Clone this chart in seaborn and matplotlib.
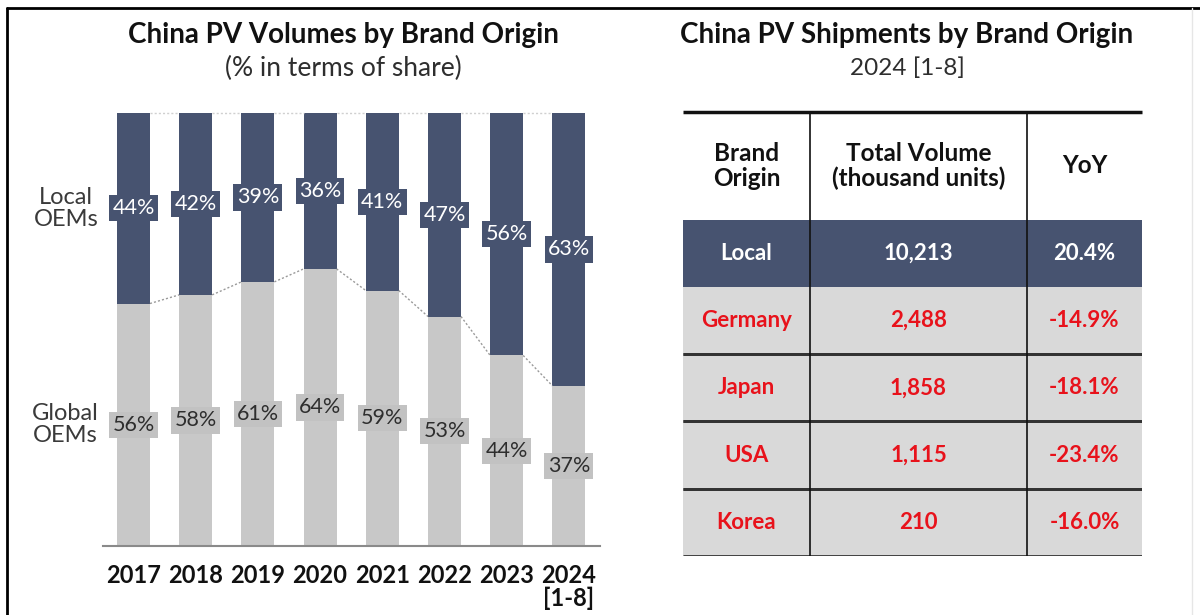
import matplotlib
matplotlib.use("Agg")
import matplotlib.pyplot as plt
import seaborn as sns
import pandas as pd
from matplotlib.patches import Rectangle
from matplotlib.lines import Line2D

# ---------------- data ----------------
years = ["2017", "2018", "2019", "2020", "2021", "2022", "2023", "2024\n[1-8]"]
local_share = [44, 42, 39, 36, 41, 47, 56, 63]
global_share = [56, 58, 61, 64, 59, 53, 44, 37]

table_headers = ["Brand\nOrigin", "Total Volume\n(thousand units)", "YoY"]
origins = ["Local", "Germany", "Japan", "USA", "Korea"]
volumes = ["10,213", "2,488", "1,858", "1,115", "210"]
yoy = ["20.4%", "-14.9%", "-18.1%", "-23.4%", "-16.0%"]

left_title = "China PV Volumes by Brand Origin"
left_sub = "(% in terms of share)"
right_title = "China PV Shipments by Brand Origin"
right_sub = "2024 [1-8]"

# ---------------- style ----------------
NAVY = "#475370"
GRAY = "#c8c8c8"
LBOX = "#c2c2c2"
TGRAY = "#d9d9d9"
RED = "#e8121b"
TXT = "#2e2e2e"

sns.set_theme(style="white")
plt.rcParams['font.family'] = ['Lato', 'DejaVu Sans']

W, H = 1200, 615
fig = plt.figure(figsize=(12, 6.15), dpi=100)
fig.patch.set_facecolor("white")


def fx(px):
    return px / W


def fy(py):
    return 1 - py / H


# ---------------- left: stacked bars ----------------
ax = fig.add_axes([fx(103), fy(546), (600 - 103) / W, (546 - 113) / H])
df = pd.DataFrame({"year": years, "local": local_share, "global": global_share})
df["total"] = df["local"] + df["global"]
BW = 0.53
sns.barplot(data=df, x="year", y="total", color=NAVY, width=BW, ax=ax,
            saturation=1, errorbar=None, linewidth=0)
sns.barplot(data=df, x="year", y="global", color=GRAY, width=BW, ax=ax,
            saturation=1, errorbar=None, linewidth=0)
ax.set_xlim(-0.49, 7.5)
ax.set_ylim(0, 100)
ax.set_xlabel("")
ax.set_ylabel("")
ax.set_yticks([])
for s in ["left", "top", "right"]:
    ax.spines[s].set_visible(False)
ax.spines["bottom"].set_color("#8a8a8a")
ax.spines["bottom"].set_linewidth(1.5)
ax.tick_params(axis="x", length=0, pad=13)
for lab in ax.get_xticklabels():
    lab.set_fontsize(17)
    lab.set_fontweight("bold")
    lab.set_color("#111111")
    lab.set_linespacing(1.0)

n = len(years)
for i in range(n - 1):
    ax.plot([i + BW / 2, i + 1 - BW / 2], [global_share[i], global_share[i + 1]],
            ls=(0, (1.5, 1.5)), color="#9a9a9a", lw=1)
    ax.plot([i + BW / 2, i + 1 - BW / 2], [100, 100],
            ls=(0, (1.5, 1.5)), color="#d0d0d0", lw=1, clip_on=False)

for i in range(n):
    g = global_share[i]
    l = local_share[i]
    ax.text(i, g + l / 2, f"{l}%", ha="center", va="center", color="white",
            fontsize=15.5,
            bbox=dict(boxstyle="square,pad=0.15", fc=NAVY, ec="none"))
    ax.text(i, g / 2, f"{g}%", ha="center", va="center", color=TXT,
            fontsize=15.5,
            bbox=dict(boxstyle="square,pad=0.15", fc=LBOX, ec="none"))

ax.text(-0.56, global_share[0] + local_share[0] / 2, "Local\nOEMs", ha="right",
        va="center", multialignment="center", fontsize=17, color="#3a3a3a",
        linespacing=1.05)
ax.text(-0.56, global_share[0] / 2, "Global\nOEMs", ha="right",
        va="center", multialignment="center", fontsize=17, color="#3a3a3a",
        linespacing=1.05)

# titles
fig.text(fx(343), fy(35), left_title, ha="center", va="center",
         fontsize=20, fontweight="bold", color="#111111")
fig.text(fx(343), fy(68), left_sub, ha="center", va="center",
         fontsize=19, color=TXT)
fig.text(fx(907), fy(35), right_title, ha="center", va="center",
         fontsize=20, fontweight="bold", color="#111111")
fig.text(fx(907), fy(68), right_sub, ha="center", va="center",
         fontsize=17.5, color=TXT)

# ---------------- right: table ----------------
colw = [127, 217, 115]
hdr_h = 1.6
nrows = len(origins)
total_h = hdr_h + nrows
tax = fig.add_axes([fx(683), fy(556), (1142 - 683) / W, (556 - 112) / H])
tax.set_xlim(0, sum(colw))
tax.set_ylim(total_h, 0)
tax.axis("off")

edges = [0]
for w in colw:
    edges.append(edges[-1] + w)
centers = [(edges[k] + edges[k + 1]) / 2 for k in range(len(colw))]

for r in range(nrows):
    y0 = hdr_h + r
    tax.add_patch(Rectangle((0, y0), sum(colw), 1,
                            fc=NAVY if r == 0 else TGRAY, ec="none", zorder=1))
    vals = [origins[r], volumes[r], yoy[r]]
    col = "white" if r == 0 else RED
    for c in range(3):
        tax.text(centers[c], y0 + 0.5, vals[c], ha="center", va="center",
                 fontsize=16, fontweight="bold", color=col, zorder=3)
    if r >= 1:
        tax.plot([0, sum(colw)], [y0 + 1, y0 + 1], color="#333333", lw=2,
                 zorder=2, solid_capstyle="butt")
    if r >= 2:
        tax.plot([0, sum(colw)], [y0, y0], color="#333333", lw=2,
                 zorder=2, solid_capstyle="butt")

for c in range(3):
    tax.text(centers[c], hdr_h / 2, table_headers[c], ha="center", va="center",
             fontsize=17.5, fontweight="bold", color="#111111",
             multialignment="center", linespacing=1.1)

tax.plot([0, sum(colw)], [0, 0], color="#111111", lw=2.5, zorder=2,
         solid_capstyle="butt", clip_on=False)
for e in edges[1:-1]:
    tax.plot([e, e], [0, total_h], color="#111111", lw=1.2, zorder=2)

# ---------------- frame ----------------
fig.add_artist(Line2D([fx(7), fx(7)], [fy(8), 0], color="black", lw=2))
fig.add_artist(Line2D([fx(7), fx(1200)], [fy(8), fy(8)], color="black", lw=2))
fig.add_artist(Line2D([fx(1192), fx(1192)], [fy(8), 0], color="#e6e6e6", lw=1))

fig.savefig("out.png", dpi=100)
